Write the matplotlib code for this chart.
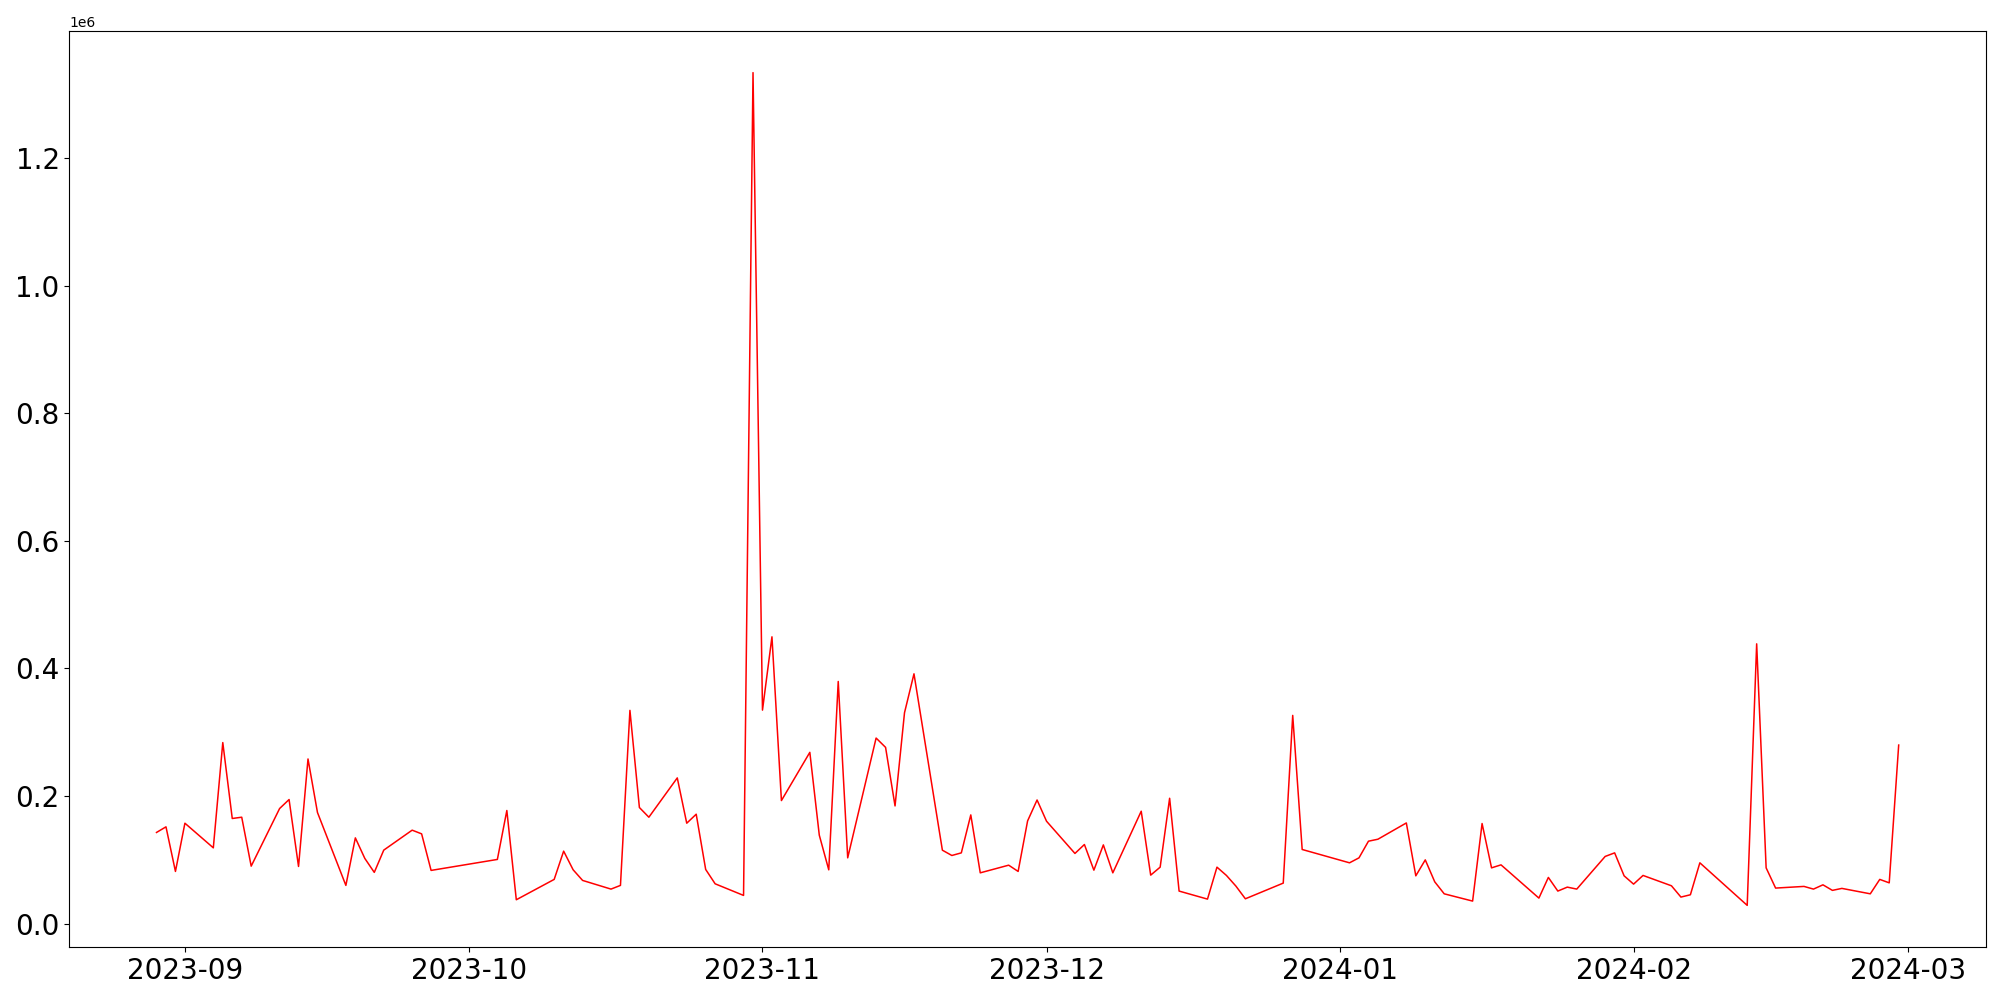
import pandas as pd
import matplotlib
matplotlib.use('Agg')
import matplotlib.pyplot as plt


# Trading days (Korean market calendar) and values
start_date = '2023-08-29'
end_date = '2024-02-29'
holidays = ['2023-09-28', '2023-09-29', '2023-10-02', '2023-10-03', '2023-10-09',
            '2023-12-25', '2023-12-29', '2024-01-01', '2024-02-09', '2024-02-12']

# values in millions
values_m = [
    # Aug 29 - Sep 27
    0.1428, 0.1516, 0.0817, 0.1573,
    0.1187, 0.2837, 0.1647, 0.1667, 0.0900,
    0.1803, 0.1944, 0.0895, 0.2580, 0.1741,
    0.0598, 0.1343, 0.1021, 0.0802, 0.1151,
    0.1464, 0.1406, 0.0833,
    # Oct 4 - Oct 31
    0.1005, 0.1772, 0.0373,
    0.0692, 0.1135, 0.0843, 0.0676,
    0.0540, 0.0598, 0.3342, 0.1819, 0.1667,
    0.2283, 0.1573, 0.1714, 0.0848, 0.0623,
    0.0441, 1.3340,
    # Nov
    0.3346, 0.4495, 0.1928,
    0.2684, 0.1385, 0.0842, 0.3795, 0.1030,
    0.2908, 0.2762, 0.1844, 0.3305, 0.3915,
    0.1150, 0.1067, 0.1108, 0.1703, 0.0795,
    0.0915, 0.0817, 0.1609, 0.1937,
    # Dec
    0.1604,
    0.1099, 0.1239, 0.0837, 0.1233, 0.0795,
    0.1761, 0.0759, 0.0884, 0.1964, 0.0509,
    0.0383, 0.0884, 0.0754, 0.0587, 0.0388,
    0.0634, 0.3263, 0.1161,
    # Jan
    0.0952, 0.1030, 0.1291, 0.1322,
    0.1577, 0.0748, 0.0998, 0.0654, 0.0466,
    0.0352, 0.1568, 0.0873, 0.0920, 0.0790,
    0.0399, 0.0723, 0.0509, 0.0571, 0.0540,
    0.1052, 0.1108, 0.0748,
    # Feb
    0.0618, 0.0754,
    0.0592, 0.0415, 0.0451, 0.0952,
    0.0285, 0.4385, 0.0873, 0.0556,
    0.0582, 0.0540, 0.0607, 0.0520, 0.0551,
    0.0466, 0.0692, 0.0638, 0.2798,
]

dates = pd.bdate_range(start_date, end_date, freq='C', holidays=holidays)
df = pd.DataFrame({'value': [v * 1e6 for v in values_m]}, index=dates)

plt.figure(figsize=(20, 10), dpi=100)
plt.plot(df.index, df['value'], color='red', linewidth=1.1)

plt.xticks(fontsize=20)
plt.yticks(fontsize=20)

plt.subplots_adjust(left=0.0347, right=0.9929, top=0.969, bottom=0.053)
plt.savefig('out.png')
